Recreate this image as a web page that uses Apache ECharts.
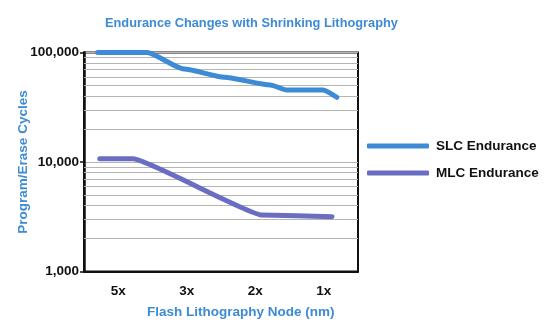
<!DOCTYPE html>
<html>
<head>
<meta charset="utf-8">
<script src="https://cdn.jsdelivr.net/npm/echarts@6/dist/echarts.min.js"></script>
<style>html,body{margin:0;padding:0;background:#fff}#c{width:554px;height:331px}</style>
</head>
<body>
<div id="c"></div>
<script>
// Category labels on the x axis
var categories = ['5x', '3x', '2x', '1x'];
// Positions along the category axis (category index units) and values
var slcX = [-0.30, 0.42, 0.96, 1.55, 2.22, 2.46, 2.99, 3.19];
var slcY = [100000, 100000, 70600, 59400, 50500, 45500, 45500, 39000];
var mlcX = [-0.27, 0.22, 2.10, 3.12];
var mlcY = [10700, 10700, 3280, 3160];
// Minor grid values on the log axis
var minorGrid = [2000, 3000, 4000, 5000, 6000, 7000, 8000, 9000,
                 20000, 30000, 40000, 50000, 60000, 70000, 80000, 90000];
var seriesNames = ['SLC Endurance', 'MLC Endurance'];

var FONT = '"Liberation Sans", Arial, Helvetica, sans-serif';
var BLUE = '#3d8bd4';
var PURPLE = '#6a6ec3';

function pairs(xs, ys) { return xs.map(function (x, i) { return [x, ys[i]]; }); }

var chart = echarts.init(document.getElementById('c'), null, { renderer: 'canvas' });
chart.setOption({
  animation: false,
  backgroundColor: '#fff',
  title: [{
    text: 'Endurance Changes with Shrinking Lithography',
    left: 105, top: 17, padding: 0,
    textStyle: { color: BLUE, fontSize: 12.8, fontWeight: 'bold', fontFamily: FONT }
  }, {
    text: 'Flash Lithography Node (nm)',
    left: 147, top: 305, padding: 0,
    textStyle: { color: BLUE, fontSize: 13.5, fontWeight: 'bold', fontFamily: FONT }
  }],
  grid: { left: 84, right: 196, top: 52.5, bottom: 59.5, show: true, borderColor: '#111', borderWidth: 2, containLabel: false },
  legend: {
    orient: 'vertical', left: 367, top: 139, itemGap: 13, padding: 0,
    icon: 'roundRect', itemWidth: 62, itemHeight: 5,
    textStyle: { color: '#111', fontSize: 13.5, fontWeight: 'bold', fontFamily: FONT, padding: [0, 0, 0, 2] },
    data: seriesNames
  },
  xAxis: [{
    type: 'category', data: categories, boundaryGap: true,
    axisLine: { show: true, onZero: false, lineStyle: { color: '#111', width: 2 } },
    axisTick: { show: false },
    axisLabel: { color: '#111', fontSize: 13.5, fontWeight: 'bold', fontFamily: FONT, margin: 13 },
    splitLine: { show: false }
  }, {
    type: 'value', min: -0.5, max: 3.5, show: false, splitLine: { show: false },
    axisLine: { onZero: false }
  }],
  yAxis: {
    type: 'log', logBase: 10, min: 1000, max: 100000,
    name: 'Program/Erase Cycles', nameLocation: 'middle', nameRotate: 90, nameGap: 54,
    nameMoveOverlap: false,
    nameTextStyle: { color: BLUE, fontSize: 13.5, fontWeight: 'bold', fontFamily: FONT },
    axisLine: { show: true, onZero: false, lineStyle: { color: '#111', width: 2.5 } },
    axisTick: { show: true, length: 4, lineStyle: { color: '#111', width: 1.5 } },
    axisLabel: {
      color: '#111', fontSize: 13.5, fontWeight: 'bold', fontFamily: FONT, margin: 5,
      formatter: function (v) { return Math.round(v).toLocaleString('en-US'); }
    },
    splitLine: { show: true, lineStyle: { color: '#b5b5b5', width: 1 } }
  },
  series: [{
    name: seriesNames[0], type: 'line', xAxisIndex: 1,
    data: pairs(slcX, slcY), showSymbol: false, symbol: 'none',
    smooth: 0.2, smoothMonotone: 'x',
    lineStyle: { color: BLUE, width: 5, cap: 'round', join: 'round' },
    itemStyle: { color: BLUE }, z: 5,
    markLine: {
      silent: true, symbol: ['none', 'none'], label: { show: false },
      lineStyle: { color: '#b5b5b5', width: 1, type: 'solid' },
      data: minorGrid.map(function (v) { return { yAxis: v }; }),
      z: 1
    }
  }, {
    name: seriesNames[1], type: 'line', xAxisIndex: 1,
    data: pairs(mlcX, mlcY), showSymbol: false, symbol: 'none',
    smooth: 0.1, smoothMonotone: 'x',
    lineStyle: { color: PURPLE, width: 5, cap: 'round', join: 'round' },
    itemStyle: { color: PURPLE }, z: 5
  }]
});
</script>
</body>
</html>
